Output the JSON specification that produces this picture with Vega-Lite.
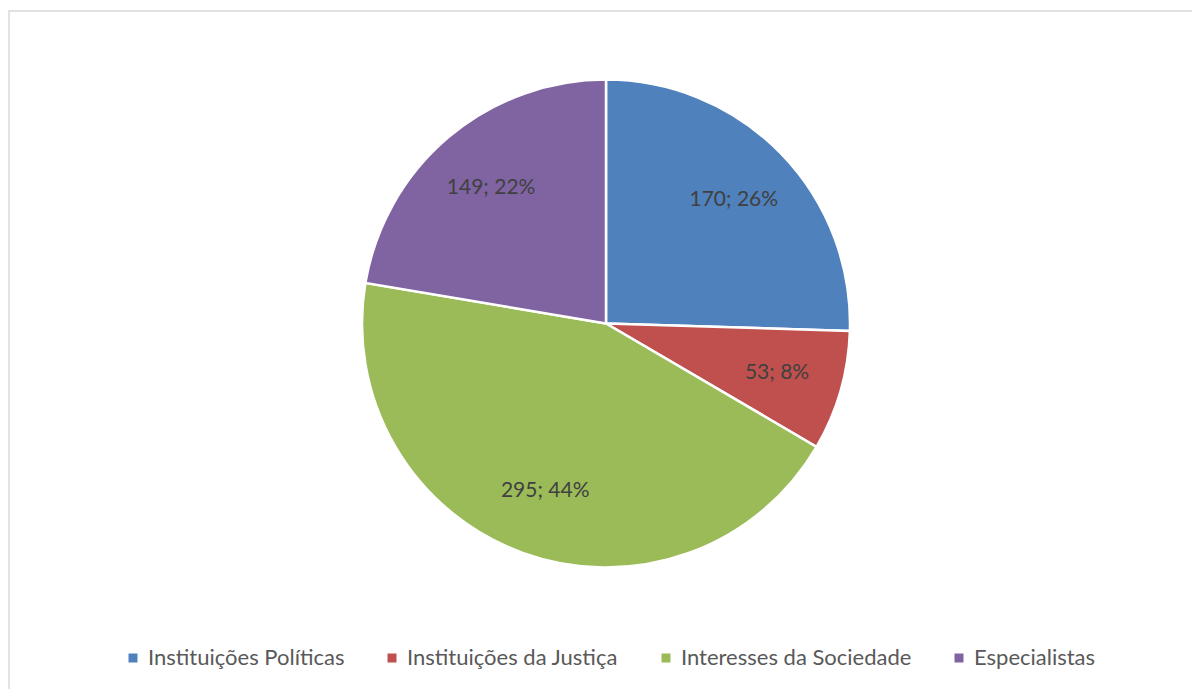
{
  "$schema": "https://vega.github.io/schema/vega-lite/v6.json",
  "width": 1186,
  "height": 681,
  "padding": {"left": 8, "top": 10, "right": 0, "bottom": 0},
  "background": "white",
  "config": {"view": {"stroke": null}, "font": "Lato"},
  "layer": [
    {
      "data": {"values": [{"frame": 1}]},
      "mark": {"type": "rect", "fill": null, "stroke": "#d9d9d9", "strokeWidth": 1.5},
      "encoding": {}
    },
    {
      "data": {"values": [
        {"idx": 1, "cat": "Instituições Políticas", "value": 170, "label": "170; 26%"},
        {"idx": 2, "cat": "Instituições da Justiça", "value": 53, "label": "53; 8%"},
        {"idx": 3, "cat": "Interesses da Sociedade", "value": 295, "label": "295; 44%"},
        {"idx": 4, "cat": "Especialistas", "value": 149, "label": "149; 22%"}
      ]},
      "encoding": {
        "theta": {"field": "value", "type": "quantitative", "stack": true},
        "order": {"field": "idx", "type": "quantitative"},
        "color": {
          "field": "cat", "type": "nominal",
          "sort": ["Instituições Políticas", "Instituições da Justiça", "Interesses da Sociedade", "Especialistas"],
          "scale": {
            "domain": ["Instituições Políticas", "Instituições da Justiça", "Interesses da Sociedade", "Especialistas"],
            "range": ["#4f81bd", "#c0504d", "#9bbb59", "#8064a2"]
          },
          "legend": {
            "orient": "none", "legendX": 113, "legendY": 636, "direction": "horizontal",
            "title": null, "symbolType": "square", "symbolSize": 81, "symbolStrokeWidth": 0,
            "labelFontSize": 22, "labelColor": "#595959", "labelFont": "Lato", "labelLimit": 500,
            "columnPadding": 36, "labelOffset": 4, "padding": 0
          }
        }
      },
      "layer": [
        {"mark": {"type": "arc", "outerRadius": 244, "stroke": "white", "strokeWidth": 2.5, "xOffset": 4, "yOffset": -28}},
        {
          "mark": {"type": "text", "radius": 178, "fontSize": 21, "font": "Lato", "xOffset": 4, "yOffset": -28},
          "encoding": {"text": {"field": "label", "type": "nominal"}, "color": {"value": "#404040"}}
        }
      ]
    }
  ]
}
